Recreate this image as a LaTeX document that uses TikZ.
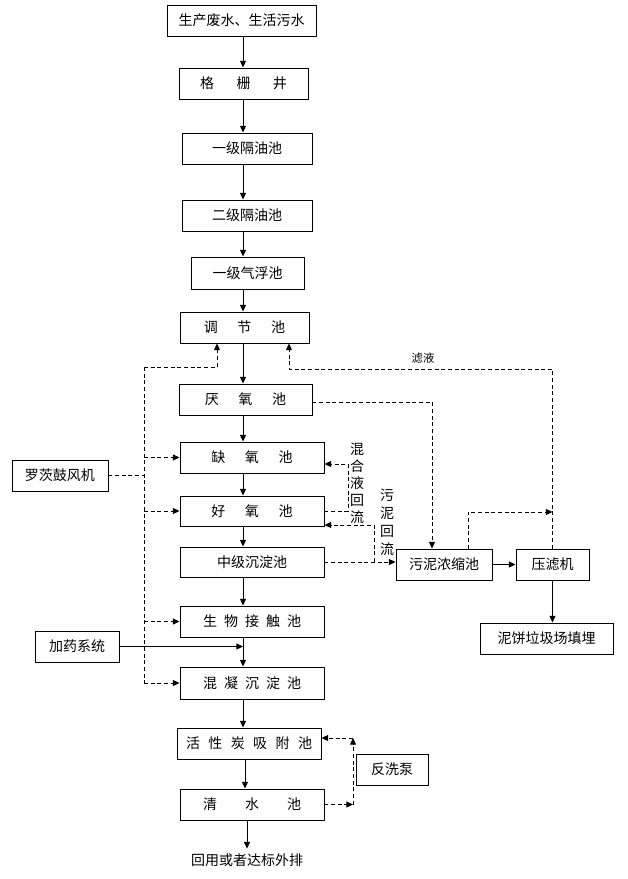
\documentclass[tikz,border=0pt]{standalone}
\usepackage{fontspec}
\setmainfont{Noto Sans CJK SC}
\usetikzlibrary{positioning, arrows.meta}

\begin{document}
\begin{tikzpicture}[
  x=0.75pt, y=-0.75pt,
  >={Triangle[length=5pt,width=4.5pt]},
  line width=0.7pt,
  every node/.style={font=\fontsize{10.5}{13}\selectfont},
  pool/.style={draw,rectangle,inner sep=0pt,minimum height=23.25pt,minimum width=#1*0.75pt},
  back/.style={dash pattern=on 3pt off 2pt}
]
\useasboundingbox (0,0) rectangle (628,879);
\coordinate (main) at (243,0);                 % main flow line
\coordinate (low) at (245,0);                  % lower part of the line

% main treatment line
\node (src) [pool=149] at (241.5,20.5) {生产废水、生活污水};
\node (gsj) [pool=129] at (243.5,83.5) {格\hspace{1.6em}栅\hspace{1.6em}井};
\node (yg1) [pool=130] at (247,148.5) {一级隔油池};
\node (yg2) [pool=130] at (247,215.5) {二级隔油池};
\node (qf)  [pool=113, minimum height=24pt] at (247.5,273) {一级气浮池};
\node (tj)  [pool=129] at (244.5,327.5) {调\hspace{1.4em}节\hspace{1.4em}池};
\node (yy)  [pool=133] at (245.5,399.5) {厌\hspace{1.4em}氧\hspace{1.4em}池};
\node (qy)  [pool=144] at (252,457.5) {缺\hspace{1.4em}氧\hspace{1.4em}池};
\node (hy)  [pool=144, minimum height=22.5pt] at (252,511) {好\hspace{1.4em}氧\hspace{1.4em}池};
\node (zc)  [pool=144, minimum height=22.5pt] at (252,562) {中级沉淀池};
\node (sw)  [pool=144] at (252,621.5) {生\hspace{0.5em}物\hspace{0.5em}接\hspace{0.5em}触\hspace{0.5em}池};
\node (hn)  [pool=144, minimum height=24pt] at (252,683) {混\hspace{0.5em}凝\hspace{0.5em}沉\hspace{0.5em}淀\hspace{0.5em}池};
\node (hxt) [pool=144] at (249,743.5) {活\hspace{0.6em}性\hspace{0.6em}炭\hspace{0.6em}吸\hspace{0.6em}附\hspace{0.6em}池};
\node (qs)  [pool=144] at (252,804.5) {清\hspace{2em}水\hspace{2em}池};
\node (out) at (247,860) {回用或者达标外排};  % final discharge

% side equipment
\node (lf)  [pool=96] at (60,475.5) {罗茨鼓风机};
\node (jy)  [pool=84] at (77,646.5) {加药系统};
\node (wn)  [pool=96] at (444,564.5) {污泥浓缩池};
\node (ylj) [pool=73] at (552.5,564.5) {压滤机};
\node (nb)  [pool=133] at (546.5,638.5) {泥饼垃圾场填埋};
\node (fx)  [pool=72] at (392,769.5) {反洗泵};

% labels
\node (lbl1) [font=\fontsize{8.5}{10}\selectfont] at (423,358) {滤液};
\node (lbl2) [align=center, inner sep=0pt, font=\fontsize{10.5}{12.8}\selectfont] at (357,483) {混\\合\\液\\回\\流};
\node (lbl3) [align=center, inner sep=0pt, font=\fontsize{10.5}{13.5}\selectfont] at (387,522) {污\\泥\\回\\流};

% main flow
\draw[->] (src.south-|main) -- (gsj.north-|main);
\draw[->] (gsj.south-|main) -- (yg1.north-|main);
\draw[->] (yg1.south-|main) -- (yg2.north-|main);
\draw[->] (yg2.south-|main) -- (qf.north-|main);
\draw[->] (qf.south-|main) -- (tj.north-|main);
\draw[->] (tj.south-|main) -- (yy.north-|main);
\draw[->] (yy.south-|main) -- (qy.north-|main);
\draw[->] (qy.south-|main) -- (hy.north-|main);
\draw[->] (hy.south-|main) -- (zc.north-|main);
\draw[->] (zc.south-|main) -- (sw.north-|main);
\draw[->] (sw.south-|main) -- (hn.north-|main);
\draw[->] (hn.south-|main) -- (hxt.north-|main);
\draw[->] (hxt.south-|low) -- (qs.north-|low);
\draw[->] (out.north|-qs.south) -- (out.north);
\draw[->] (jy.east) -- (jy.east-|main);       % dosing

% air from blower
\coordinate (l1) at (144,367);
\coordinate (l2) at (144,683);
\coordinate (t1) at (217,367);
\draw[back] (l1) -- (l2);
\draw[back] (lf.east) -- (lf.east-|l1);
\draw[back,->] (l1) -- (t1) -- (t1|-tj.south);
\draw[back,->] (qy.west-|l1) -- (qy.west);
\draw[back,->] (hy.west-|l1) -- (hy.west);
\draw[back,->] (sw.west-|l1) -- (sw.west);
\draw[back,->] (hn.west-|l1) -- (hn.west);

% sludge line
\coordinate (t2) at (289,369);
\coordinate (t3) at (432,402);
\coordinate (t4) at (348,464);
\coordinate (t5) at (374,525);
\coordinate (t6) at (468,512);
\draw[back,->] (ylj.north) |- (t2) -- (t2|-tj.south);   % filtrate
\draw[back,->] (yy.east|-t3) -- (t3) -- (t3|-wn.north);
\draw[back,->] (hy.east) -| (t4) -- (t4-|qy.east);       % mixed liquor
\draw[back,->] (zc.east) -- (zc.east-|wn.west);
\draw[back,->] (t5|-zc.east) -- (t5) -- (t5-|hy.east);   % sludge return
\draw[back,->] (t6|-wn.north) -- (t6) -- (t6-|ylj.north);
\draw[->] (wn) -- (ylj);
\draw[->] (ylj.south) -- (ylj.south|-nb.north);

% backwash
\coordinate (t7) at (353,738);
\coordinate (t8) at (353,804.5);
\draw[back,->] (qs.east) -- (t8);
\draw[back,->] (t8) -- (t7);
\draw[back,->] (t7) -- (t7-|hxt.east);
\end{tikzpicture}
\end{document}
